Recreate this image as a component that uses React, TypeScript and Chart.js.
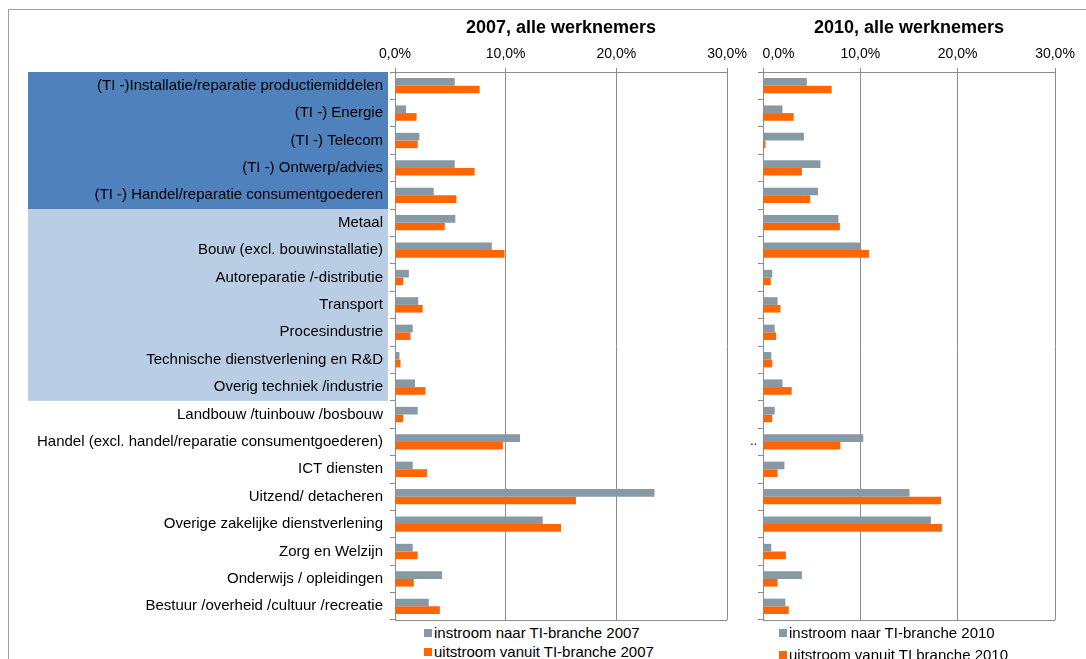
import React, { useEffect, useRef } from "react";
import { Chart, registerables } from "chart.js";

Chart.register(...registerables);

const categories = [
  "(TI -)Installatie/reparatie productiemiddelen",
  "(TI -) Energie",
  "(TI -) Telecom",
  "(TI -) Ontwerp/advies",
  "(TI -) Handel/reparatie consumentgoederen",
  "Metaal",
  "Bouw (excl. bouwinstallatie)",
  "Autoreparatie /-distributie",
  "Transport",
  "Procesindustrie",
  "Technische dienstverlening en R&D",
  "Overig techniek /industrie",
  "Landbouw /tuinbouw /bosbouw",
  "Handel (excl. handel/reparatie consumentgoederen)",
  "ICT diensten",
  "Uitzend/ detacheren",
  "Overige zakelijke dienstverlening",
  "Zorg en Welzijn",
  "Onderwijs / opleidingen",
  "Bestuur /overheid /cultuur /recreatie",
];

const instroom2007 = [5.4, 1.0, 2.2, 5.4, 3.5, 5.45, 8.75, 1.25, 2.1, 1.6, 0.4, 1.8, 2.05, 11.3, 1.6, 23.45, 13.35, 1.6, 4.25, 3.05];
const uitstroom2007 = [7.65, 1.95, 2.05, 7.2, 5.55, 4.5, 9.9, 0.75, 2.5, 1.4, 0.5, 2.75, 0.75, 9.75, 2.9, 16.35, 15.0, 2.05, 1.7, 4.05];
const instroom2010 = [4.5, 2.0, 4.2, 5.9, 5.65, 7.75, 10.0, 0.95, 1.5, 1.2, 0.85, 2.0, 1.2, 10.3, 2.2, 15.05, 17.25, 0.85, 4.0, 2.3];
const uitstroom2010 = [7.05, 3.15, 0.25, 4.0, 4.85, 7.9, 10.9, 0.8, 1.8, 1.35, 0.95, 2.95, 0.95, 7.95, 1.5, 18.3, 18.4, 2.35, 1.5, 2.65];

const xMax = 30;
const xStep = 10;

const titles = ["2007, alle werknemers", "2010, alle werknemers"];
const legend2007 = ["instroom naar TI-branche 2007", "uitstroom vanuit TI-branche 2007"];
const legend2010 = ["instroom naar TI-branche 2010", "uitstroom vanuit TI branche 2010"];

// category index ranges of the shaded label bands
const darkBandRows = [0, 1, 2, 3, 4];
const lightBandRows = [5, 6, 7, 8, 9, 10, 11];
// label shown on the right chart's y axis (truncated in the source)
const rightAxisLabelIndex = 13;
const rightAxisLabel = "..";

const GRAY = "#8899A6";
const ORANGE = "#FF6600";
const GRID = "#8C8C8C";
const FONT = "'Liberation Sans', Arial, Helvetica, sans-serif";

const fmtPct = (v: number) => Number(v).toFixed(1).replace(".", ",") + "%";

const bandsPlugin = {
  id: "bands",
  beforeDraw(chart: any) {
    const y = chart.scales.y;
    const area = chart.chartArea;
    const ctx = chart.ctx;
    const n = categories.length;
    const h = (area.bottom - area.top) / n;
    const drawBand = (rows: number[], color: string) => {
      if (!rows.length) return;
      const first = rows[0];
      const last = rows[rows.length - 1];
      const top = y.getPixelForValue(first) - h / 2;
      const bottom = y.getPixelForValue(last) + h / 2;
      ctx.save();
      ctx.fillStyle = color;
      ctx.fillRect(28, top, area.left - 7 - 28, bottom - top);
      ctx.restore();
    };
    drawBand(darkBandRows, "#4F81BD");
    drawBand(lightBandRows, "#B9CDE5");
  },
};

const frameBottomPlugin = {
  id: "frameBottom",
  afterDraw(chart: any) {
    const a = chart.chartArea;
    const ctx = chart.ctx;
    ctx.save();
    ctx.strokeStyle = GRID;
    ctx.lineWidth = 1;
    ctx.beginPath();
    ctx.moveTo(a.left, Math.round(a.bottom) + 0.5);
    ctx.lineTo(a.right, Math.round(a.bottom) + 0.5);
    ctx.stroke();
    ctx.restore();
  },
};

function makeConfig(
  inst: number[],
  uit: number[],
  labels: string[],
  yWidth: number,
  padRight: number,
  isLeft: boolean
): any {
  return {
    type: "bar",
    data: {
      labels: categories,
      datasets: [
        {
          label: labels[0],
          data: inst,
          backgroundColor: GRAY,
          borderWidth: 0,
          categoryPercentage: 0.56,
          barPercentage: 1.0,
        },
        {
          label: labels[1],
          data: uit,
          backgroundColor: ORANGE,
          borderWidth: 0,
          categoryPercentage: 0.56,
          barPercentage: 1.0,
        },
      ],
    },
    options: {
      indexAxis: "y",
      responsive: false,
      animation: false,
      layout: { padding: { top: 0, left: 0, right: padRight, bottom: 2 } },
      plugins: {
        legend: { display: false },
        title: { display: false },
        tooltip: { enabled: false },
      },
      scales: {
        x: {
          position: "top",
          min: 0,
          max: xMax,
          ticks: {
            stepSize: xStep,
            color: "#000",
            padding: 5,
            font: { family: FONT, size: 14 },
            // the right panel's first label is pushed right so it does not collide with the left panel
            callback: (v: any) => (!isLeft && Number(v) === 0 ? "        " + fmtPct(v) : fmtPct(v)),
          },
          grid: {
            color: GRID,
            lineWidth: 1,
            drawTicks: true,
            tickLength: 4,
          },
          border: { display: true, color: GRID },
          afterFit: (s: any) => {
            s.height = 72;
            s.paddingLeft = 0;
            s.paddingRight = 0;
          },
        },
        y: {
          ticks: {
            autoSkip: false,
            color: "#000",
            padding: isLeft ? 7 : 1,
            font: { family: FONT, size: isLeft ? 15 : 12 },
            callback: function (this: any, v: any, i: number) {
              if (isLeft) return categories[i];
              return i === rightAxisLabelIndex ? rightAxisLabel : "";
            },
          },
          grid: {
            drawOnChartArea: false,
            drawTicks: true,
            tickLength: 5,
            color: GRID,
            offset: true,
          },
          border: { display: true, color: GRID },
          afterFit: (s: any) => {
            s.width = yWidth;
            s.paddingTop = 0;
            s.paddingBottom = 0;
          },
        },
      },
    },
    plugins: isLeft ? [bandsPlugin, frameBottomPlugin] : [frameBottomPlugin],
  };
}

function LegendBlock({ labels, left, tops }: { labels: string[]; left: number; tops: number[] }) {
  const colors = [GRAY, ORANGE];
  return (
    <>
      {labels.map((t, i) => (
        <div
          key={t}
          style={{
            position: "absolute",
            left,
            top: tops[i],
            height: 19,
            lineHeight: "19px",
            display: "flex",
            alignItems: "center",
            fontFamily: FONT,
            fontSize: 15,
            color: "#000",
            whiteSpace: "nowrap",
          }}
        >
          <span style={{ display: "inline-block", width: 8, height: 8, background: colors[i], marginRight: 2 }} />
          <span>{t}</span>
        </div>
      ))}
    </>
  );
}

export default function App() {
  const leftRef = useRef<HTMLCanvasElement>(null);
  const rightRef = useRef<HTMLCanvasElement>(null);

  useEffect(() => {
    const c1 = new Chart(leftRef.current as HTMLCanvasElement, makeConfig(instroom2007, uitstroom2007, legend2007, 395, 33, true));
    const c2 = new Chart(rightRef.current as HTMLCanvasElement, makeConfig(instroom2010, uitstroom2010, legend2010, 18, 31, false));
    return () => {
      c1.destroy();
      c2.destroy();
    };
  }, []);

  const titleStyle = (cx: number): React.CSSProperties => ({
    position: "absolute",
    left: cx - 150,
    width: 300,
    top: 18,
    textAlign: "center",
    fontFamily: FONT,
    fontWeight: "bold",
    fontSize: 18,
    lineHeight: "18px",
    color: "#000",
    whiteSpace: "nowrap",
  });

  return (
    <div style={{ position: "absolute", left: 0, top: 0, width: 1086, height: 659, overflow: "hidden", background: "#fff" }}>
      <div
        style={{
          position: "absolute",
          left: 8,
          top: 9,
          width: 1100,
          height: 700,
          borderLeft: "1px solid #A0A0A0",
          borderTop: "1px solid #A0A0A0",
        }}
      />
      <canvas ref={leftRef} width={760} height={622} style={{ position: "absolute", left: 0, top: 0 }} />
      <canvas ref={rightRef} width={341} height={622} style={{ position: "absolute", left: 745, top: 0 }} />
      <div style={titleStyle(561)}>{titles[0]}</div>
      <div style={titleStyle(909)}>{titles[1]}</div>
      <LegendBlock labels={legend2007} left={424} tops={[623, 642]} />
      <LegendBlock labels={legend2010} left={779} tops={[623, 645]} />
    </div>
  );
}
